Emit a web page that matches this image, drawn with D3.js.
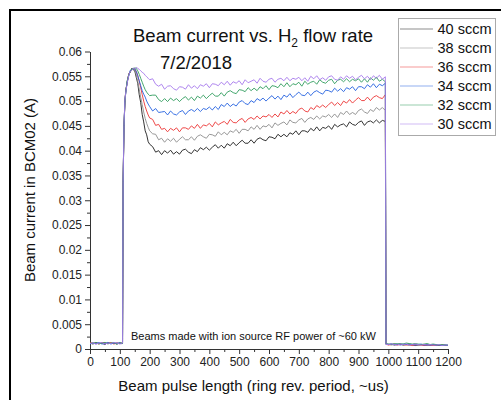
<!DOCTYPE html>
<html>
<head>
<meta charset="utf-8">
<script src="https://cdn.jsdelivr.net/npm/d3@7"></script>
<style>
  body { margin: 0; background: #fff; }
  svg { display: block; font-family: "Liberation Sans", Arial, sans-serif; }
  .axis text { font-size: 12px; fill: #222; }
  .axis path, .axis line { stroke: #333; }
</style>
</head>
<body>
<svg id="chart" width="501" height="400"></svg>
<script>
// sample times (us) shared by all traces
const times = [].concat(d3.range(0, 101, 10), [106, 109, 111, 114, 117], d3.range(120, 201, 5),
                        d3.range(210, 991, 10), [992], d3.range(1000, 1201, 10));

// beam current, in mA (axis labels are shown in A)
const flow40 = [1.2,1.0,1.3,1.1,1.2,0.9,1.3,1.1,1.2,1.0,1.2, 1.1,1.2,
  34.0,45.2,49.8,52.2,53.8,55.5,55.8,56.6,56.3,56.1,54.8,53.6,51.3,49.7,47.3,45.8,44.0,43.2,41.8,41.3,
  40.8,39.7,40.0,39.2,40.0,39.5,40.1,39.3,39.8,39.3, 40.1,40.3,39.7,39.4,40.2,39.8,40.6,40.2,40.7,40.1,
  40.7,41.2,40.5,41.1,40.5,41.4,41.0,41.7,41.0,41.6, 42.1,41.5,41.5,42.2,41.5,42.3,42.6,42.2,42.0,42.8,
  42.7,42.4,43.3,42.8,43.3,42.8,43.6,43.3,44.0,43.2, 44.0,44.0,43.7,44.5,44.0,44.8,44.0,44.7,44.5,45.0,
  44.3,45.3,44.8,45.2,45.4,44.8,45.8,45.3,45.1,45.7, 46.0,45.1,45.8,46.0,45.6,46.2,45.6,46.1,45.9,
  1.0,0.9,1.0,0.8,0.9,1.0,0.8,0.9,0.8,0.9,0.7,0.8,0.9,0.8,0.7,0.8,0.9,0.7,0.8,0.7,0.8,0.7];

const flow38 = [1.1,1.3,1.0,1.2,1.1,1.3,1.0,1.2,1.1,1.3,1.1, 1.2,1.1,
  33.5,44.8,49.7,51.9,54.1,55.2,56.1,56.4,56.7,56.3,55.3,54.0,52.4,50.8,49.3,47.8,46.5,45.5,44.7,44.0,
  43.4,43.3,42.2,42.5,41.7,42.4,41.9,42.5,41.7,42.3, 42.8,42.2,42.2,42.8,42.1,42.9,43.2,42.8,42.5,43.3,
  43.2,42.9,43.8,43.2,43.7,43.2,44.0,43.7,44.3,43.5, 44.3,44.3,44.0,44.8,44.3,45.1,44.3,45.0,44.8,45.3,
  44.6,45.6,45.1,45.5,45.8,45.2,46.2,45.7,45.6,46.2, 46.5,45.7,46.4,46.7,46.3,47.0,46.4,47.0,46.8,47.3,
  46.7,47.4,46.7,47.7,47.3,48.0,47.3,47.7,47.3,48.1, 48.4,47.8,47.5,48.3,47.9,48.7,48.2,48.7,48.1,
  0.9,1.0,0.8,0.9,1.0,0.9,0.8,1.0,0.9,0.8,0.9,0.7,0.8,0.9,0.8,0.7,0.8,0.8,0.7,0.8,0.7,0.8];

const flow36 = [1.3,1.1,1.2,1.0,1.3,1.2,1.1,1.3,1.0,1.2,1.1, 1.2,1.3,
  33.8,44.7,49.9,52.1,53.9,55.4,55.9,56.3,56.6,56.5,56.0,55.2,54.0,52.7,51.3,50.0,48.9,48.0,47.2,46.6,
  46.3,45.1,45.3,44.3,44.5,43.8,44.5,44.1,44.6,43.8, 44.6,44.6,44.3,45.0,44.5,45.3,44.5,45.2,45.0,45.5,
  44.8,45.8,45.2,45.6,45.9,45.3,46.3,45.7,45.6,46.2, 46.5,45.7,46.4,46.7,46.3,47.0,46.4,47.0,46.8,47.3,
  46.7,47.4,46.8,47.8,47.4,48.1,47.4,47.9,47.5,48.3, 48.6,48.0,47.8,48.7,48.3,49.1,48.7,49.2,48.7,49.3,
  49.8,49.1,49.7,49.1,50.0,49.6,50.3,49.6,50.2,50.7, 50.1,50.1,50.8,50.1,50.8,51.1,50.7,50.5,51.3,
  1.0,0.8,0.9,1.0,0.8,0.9,0.9,0.8,0.9,0.7,0.8,0.9,0.8,0.7,0.9,0.8,0.7,0.8,0.7,0.8,0.7,0.7];

const flow34 = [1.0,1.2,1.1,1.3,1.0,1.1,1.3,1.0,1.2,1.1,1.3, 1.1,1.2,
  33.6,45.0,50.1,51.8,54.0,55.1,56.2,56.3,56.6,56.5,56.0,55.1,54.1,53.1,52.1,51.4,50.8,50.0,49.4,48.9,
  48.0,48.5,47.7,47.8,47.9,47.2,48.0,47.4,47.2,47.8, 48.1,47.3,48.0,48.3,47.9,48.5,47.9,48.5,48.3,48.8,
  48.2,48.9,48.3,49.3,48.9,49.6,48.9,49.4,49.0,49.8, 50.1,49.5,49.3,50.1,49.7,50.5,50.1,50.6,50.0,50.6,
  51.1,50.4,51.0,50.3,51.2,50.8,51.5,50.7,51.3,51.8, 51.2,51.1,51.8,51.1,51.8,52.1,51.7,51.4,52.2,52.1,
  51.8,52.6,52.0,52.5,51.9,52.7,52.4,52.9,52.1,52.9, 52.9,52.5,53.3,52.8,53.5,52.7,53.4,53.1,53.6,
  1.1,0.9,1.0,0.9,1.0,0.8,1.0,0.9,1.0,0.9,0.8,0.9,1.0,0.8,0.9,0.8,0.9,0.8,0.8,0.7,0.8,0.7];

const flow32 = [1.2,1.1,1.3,1.0,1.2,1.3,1.1,1.2,1.3,1.0,1.2, 1.2,1.1,
  33.9,44.9,49.6,52.0,54.2,55.3,55.9,56.5,56.4,56.7,56.6,56.1,55.4,54.6,53.8,53.0,52.3,51.8,51.4,51.1,
  51.2,51.2,50.3,49.9,50.5,49.9,50.6,50.1,50.5,49.9, 50.5,50.9,50.2,50.8,50.1,51.0,50.6,51.2,50.5,51.1,
  51.6,51.0,51.0,51.7,51.0,51.8,52.1,51.7,51.5,52.3, 52.2,51.9,52.7,52.1,52.6,52.1,52.9,52.5,53.1,52.3,
  53.1,53.0,52.7,53.5,52.9,53.7,52.9,53.5,53.3,53.8, 53.0,54.0,53.4,53.8,54.0,53.4,54.3,53.8,53.6,54.2,
  54.4,53.5,54.2,54.4,53.9,54.5,53.9,54.4,54.1,54.5, 53.8,54.5,53.8,54.7,54.2,54.8,54.0,54.4,53.9,
  1.0,1.0,0.9,1.1,1.0,1.1,1.0,1.2,1.1,1.0,1.1,1.0,0.9,1.0,1.1,0.9,1.0,0.9,0.8,0.9,0.8,0.8];

const flow30 = [1.1,1.2,1.0,1.2,1.3,1.0,1.2,1.1,1.3,1.2,1.0, 1.1,1.2,
  33.7,45.1,50.0,51.9,53.7,55.2,56.0,56.2,56.6,56.5,56.8,56.6,56.4,56.1,55.8,55.6,55.2,54.9,54.6,54.3,
  54.5,53.4,53.0,53.4,52.4,53.0,53.1,52.5,52.2,52.9, 52.8,52.4,53.3,52.6,53.1,52.5,53.3,53.0,53.5,52.7,
  53.5,53.4,53.1,53.8,53.3,54.0,53.2,53.9,53.6,54.1, 53.3,54.3,53.7,54.0,54.3,53.6,54.6,54.0,53.8,54.4,
  54.6,53.8,54.4,54.6,54.1,54.8,54.1,54.6,54.4,54.8, 54.1,54.7,54.0,55.0,54.5,55.1,54.3,54.7,54.2,54.9,
  55.1,54.4,54.2,54.9,54.4,55.1,54.6,55.0,54.3,54.8, 55.2,54.5,55.0,54.3,55.1,54.6,55.2,54.4,54.9,
  0.9,0.9,1.0,0.9,0.8,1.0,0.9,1.0,0.8,0.9,1.0,0.9,0.8,0.9,0.8,0.9,0.8,0.8,0.9,0.7,0.8,0.8];

const seriesNames = ["40 sccm", "38 sccm", "36 sccm", "34 sccm", "32 sccm", "30 sccm"];
const seriesColors = ["#1c1c1c", "#8c8c8c", "#ec3434", "#2461e0", "#2f9c5c", "#a678ec"];
const seriesValues = [flow40, flow38, flow36, flow34, flow32, flow30];

const xTicks = d3.range(0, 1201, 100);
const xMinor = d3.range(50, 1200, 100);
const yTicks = [0, 5, 10, 15, 20, 25, 30, 35, 40, 45, 50, 55, 60];
const yTickLabels = ["0", "0.005", "0.01", "0.015", "0.02", "0.025", "0.03", "0.035", "0.04", "0.045", "0.05", "0.055", "0.06"];
const yMinor = [2.5, 7.5, 12.5, 17.5, 22.5, 27.5, 32.5, 37.5, 42.5, 47.5, 52.5, 57.5];

var svg = d3.select("#chart");

svg.append("rect").attr("width", 501).attr("height", 400).attr("fill", "#fff");
svg.append("rect")
  .attr("x", 10).attr("y", 10).attr("width", 600).attr("height", 600)
  .attr("fill", "none").attr("stroke", "#000").attr("stroke-width", 2);

var x = d3.scaleLinear().domain([0, 1200]).range([90, 448]);
var y = d3.scaleLinear().domain([0, 60]).range([349, 51.5]);

// axes
svg.append("g")
  .attr("class", "axis")
  .attr("transform", "translate(0,349)")
  .call(d3.axisBottom(x).tickValues(xTicks).tickSize(5).tickSizeOuter(0).tickPadding(3)
    .tickFormat(d3.format("d")));
svg.append("g")
  .attr("class", "axis")
  .attr("transform", "translate(0,349)")
  .call(d3.axisBottom(x).tickValues(xMinor).tickSize(3).tickFormat(""))
  .select(".domain").remove();

svg.append("g")
  .attr("class", "axis")
  .attr("transform", "translate(90,0)")
  .call(d3.axisLeft(y).tickValues(yTicks).tickSize(5).tickSizeOuter(0).tickPadding(3)
    .tickFormat((d, i) => yTickLabels[i]));
svg.append("g")
  .attr("class", "axis")
  .attr("transform", "translate(90,0)")
  .call(d3.axisLeft(y).tickValues(yMinor).tickSize(3).tickFormat(""))
  .select(".domain").remove();

// traces
var line = d3.line()
  .x((d, i) => x(times[i]))
  .y(d => y(d));

seriesValues.forEach((vals, k) => {
  svg.append("path")
    .datum(vals)
    .attr("fill", "none")
    .attr("stroke", seriesColors[k])
    .attr("stroke-width", 0.9)
    .attr("stroke-linejoin", "round")
    .attr("d", line);
});

// titles
var title = svg.append("text")
  .attr("x", 133).attr("y", 42)
  .attr("font-size", 18.5).attr("fill", "#111");
title.append("tspan").text("Beam current vs. H");
title.append("tspan").attr("font-size", 12).attr("dy", 5).text("2");
title.append("tspan").attr("dy", -5).text(" flow rate");

svg.append("text")
  .attr("x", 196).attr("y", 69)
  .attr("text-anchor", "middle")
  .attr("font-size", 18.5).attr("fill", "#111")
  .text("7/2/2018");

svg.append("text")
  .attr("transform", "translate(35,190)rotate(-90)")
  .attr("text-anchor", "middle")
  .attr("font-size", 15).attr("fill", "#111")
  .text("Beam current in BCM02 (A)");

svg.append("text")
  .attr("x", 253.5).attr("y", 391)
  .attr("text-anchor", "middle")
  .attr("font-size", 15).attr("fill", "#111")
  .text("Beam pulse length (ring rev. period, ~us)");

svg.append("text")
  .attr("x", 131).attr("y", 340)
  .attr("font-size", 11).attr("fill", "#111")
  .text("Beams made with ion source RF power of ~60 kW");

// legend
var legend = svg.append("g");
legend.append("rect")
  .attr("x", 398.5).attr("y", 18.5).attr("width", 97).attr("height", 117)
  .attr("fill", "#fff").attr("stroke", "#aaa");

seriesNames.forEach((name, k) => {
  var ly = 29 + k * 19;
  legend.append("line")
    .attr("x1", 400).attr("x2", 433).attr("y1", ly).attr("y2", ly)
    .attr("stroke", seriesColors[k]).attr("stroke-opacity", 0.5);
  legend.append("text")
    .attr("x", 437.5).attr("y", ly + 5)
    .attr("font-size", 14.5).attr("fill", "#111")
    .text(name);
});
</script>
</body>
</html>
